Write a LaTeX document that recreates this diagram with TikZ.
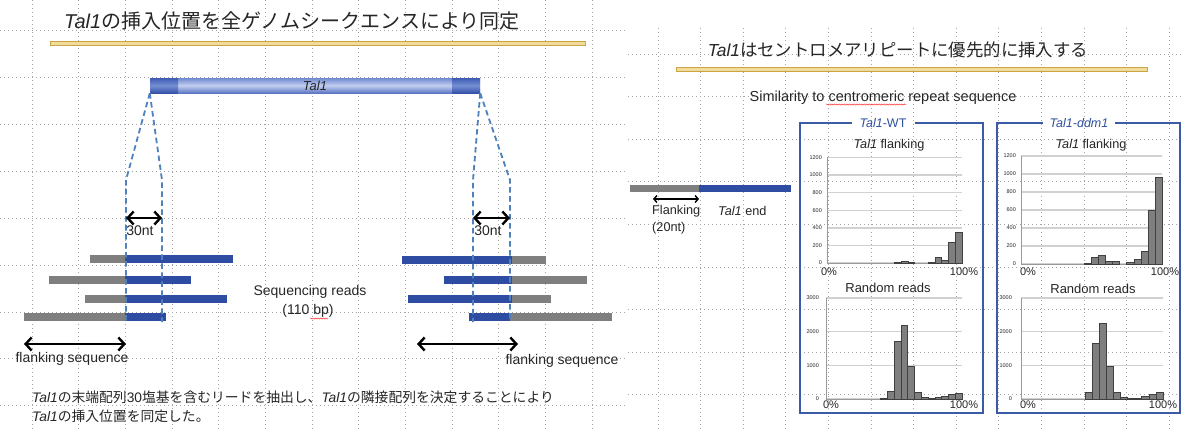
\documentclass[tikz,border=0pt]{standalone}
\usepackage{fontspec}
\setmainfont{Liberation Sans}
\newfontfamily\jp{Noto Sans CJK JP}
\usetikzlibrary{arrows.meta,decorations.pathmorphing}
\definecolor{gridc}{HTML}{A6A6A6}
\definecolor{goldf}{HTML}{F2DC9B}
\definecolor{goldd}{HTML}{C9A548}
\definecolor{readblue}{HTML}{2E4DA2}
\definecolor{readgray}{HTML}{7F7F7F}
\definecolor{dashblue}{HTML}{4F81BD}
\definecolor{boxblue}{HTML}{3B5BA9}
\definecolor{txt}{HTML}{262626}
\definecolor{lbl}{HTML}{3050A0}
\definecolor{bartop}{HTML}{6F88D0}
\definecolor{barmid}{HTML}{C3CFEF}
\definecolor{barbot}{HTML}{5C76C4}
\definecolor{endtop}{HTML}{3D5BB3}
\definecolor{endmid}{HTML}{7690D3}
\definecolor{endbot}{HTML}{3552A8}
\newcommand\fs[1]{\fontsize{#1}{#1}\selectfont}
\newcommand\mychart[9]{%
  \foreach \t in {0,#6,...,#7}{%
    \draw[cgrid] (#2,{#4-\t*#5}) -- (#3,{#4-\t*#5});
    \node[axlab,anchor=east] (#1l\t) at (#8,{#4-\t*#5}) {\t};}
  \draw[caxis] (#2,#4) -- (#2,{#4-#7*#5});
  \draw[caxis] (#2,#4) -- (#3,#4);
  \pgfmathsetmacro\bw{(#3-#2)/20}
  \foreach \v [count=\i from 0] in {#9}{%
    \ifnum\v>0 \draw[hbar] ({#2+\i*\bw},#4) rectangle ({#2+(\i+1)*\bw},{#4-\v*#5});\fi}
}
\begin{document}
\begin{tikzpicture}[x=1pt,y=-1pt,
  gridline/.style={gridc,line width=0.8pt,dash pattern=on 1pt off 3pt},
  readb/.style={fill=readblue,draw=none},
  readg/.style={fill=readgray,draw=none},
  dashl/.style={dashblue,line width=1.8pt,dash pattern=on 5.5pt off 3.5pt},
  darr/.style={line width=2.4pt,{Straight Barb[length=6pt,width=13pt]}-{Straight Barb[length=6pt,width=13pt]}},
  sarr/.style={line width=1.4pt,{Straight Barb[length=3pt,width=7pt]}-{Straight Barb[length=3pt,width=7pt]}},
  goldline/.style={fill=goldf,draw=goldd,line width=0.6pt},
  lab/.style={inner sep=0pt,text=txt},
  cgrid/.style={black!18,line width=1.4pt},
  caxis/.style={black!40,line width=0.7pt},
  axlab/.style={inner sep=0pt,font=\fs{5.5},text=txt},
  hbar/.style={fill=readgray,draw=black!75,line width=0.6pt},
  boxl/.style={boxblue,line width=1.8pt},
  squig/.style={red!80,line width=0.5pt,decorate,decoration={snake,amplitude=0.6pt,segment length=2.5pt}}
]
\useasboundingbox (0,0) rectangle (1182,432);
\fill[white] (0,0) rectangle (1182,432);
% background grids
\foreach \i in {0,...,12} \draw[gridline] ({32+\i*46.67},0) -- ({32+\i*46.67},432);
\foreach \j in {0,...,8} \draw[gridline] (0,{30.5+\j*46.9}) -- (625,{30.5+\j*46.9});
\foreach \i in {0,...,12} \draw[gridline] ({658+\i*42.6},28) -- ({658+\i*42.6},432);
\foreach \j in {0,...,8} \draw[gridline] (628,{54+\j*42.6}) -- (1182,{54+\j*42.6});

% ---------- left slide ----------
\node[lab,font=\fs{20}] (title1) at (292,21) {{\itshape Tal1}{\jp の挿入位置を全ゲノムシークエンスにより同定}};
\filldraw[goldline] (50,41.5) rectangle (585,45);

\node[minimum width=330pt,minimum height=15pt,inner sep=0pt,
      top color=bartop,bottom color=barbot,middle color=barmid] (bar) at (315,85.5) {};
\shade[top color=endtop,bottom color=endbot,middle color=endmid] (150,78) rectangle (178,93);
\shade[top color=endtop,bottom color=endbot,middle color=endmid] (452,78) rectangle (480,93);
\node[lab,font=\fs{13}\itshape] (barlab) at (bar.center) {Tal1};

% reads left
\fill[readg] (90,255) rectangle (125,263);  \fill[readb] (125,255) rectangle (233,263);
\fill[readg] (49,276) rectangle (125,284);  \fill[readb] (125,276) rectangle (191,284);
\fill[readg] (85,295) rectangle (125,303);  \fill[readb] (125,295) rectangle (227,303);
\fill[readg] (24,313) rectangle (125,321);  \fill[readb] (125,313) rectangle (166,321);
% reads right
\fill[readb] (402,256) rectangle (512,264); \fill[readg] (512,256) rectangle (546,264);
\fill[readb] (444,276) rectangle (512,284); \fill[readg] (512,276) rectangle (587,284);
\fill[readb] (408,295) rectangle (512,303); \fill[readg] (512,295) rectangle (551,303);
\fill[readb] (469,313) rectangle (510,321); \fill[readg] (510,313) rectangle (612,321);

% dashed projection lines
\coordinate (lo) at (126,180); \coordinate (lob) at (126,322);
\coordinate (li) at (162,180); \coordinate (lib) at (162,322);
\coordinate (ri) at (473,180); \coordinate (rib) at (473,322);
\coordinate (ro) at (510,180); \coordinate (rob) at (510,322);
\draw[dashl] (bar.south west) -- (lo) -- (lob);
\draw[dashl] (bar.south west) -- (li) -- (lib);
\draw[dashl] (bar.south east) -- (ri) -- (rib);
\draw[dashl] (bar.south east) -- (ro) -- (rob);

% 30nt arrows
\coordinate (a1) at (126,218); \coordinate (a2) at (162,218);
\coordinate (a3) at (473,218); \coordinate (a4) at (510,218);
\draw[darr] (a1) -- (a2);
\draw[darr] (a3) -- (a4);
\node[lab,font=\fs{14}] (nt1) at (140,231) {30nt};
\node[lab,font=\fs{14}] (nt2) at (488,231) {30nt};

\node[lab,font=\fs{14}] (seq1) at (310,292) {Sequencing reads};
\node[lab,font=\fs{14}] (seq2) at (308,311) {(110 bp)};
\draw[squig] (310,318.5) -- (328,318.5);

% flanking arrows
\coordinate (f1) at (24,344); \coordinate (f2) at (126,344);
\coordinate (f3) at (417,344); \coordinate (f4) at (518,344);
\draw[darr] (f1) -- (f2);
\draw[darr] (f3) -- (f4);
\node[lab,font=\fs{14}] (fl1) at (72,359) {flanking sequence};
\node[lab,font=\fs{14}] (fl2) at (562,361) {flanking sequence};

\node[lab,font=\fs{13.8},anchor=west] (note1) at (32,397) {{\itshape Tal1}{\jp の末端配列}30{\jp 塩基を含むリードを抽出し、}{\itshape Tal1}{\jp の隣接配列を決定することにより}};
\node[lab,font=\fs{13.8},anchor=west] (note2) at (32,416) {{\itshape Tal1}{\jp の挿入位置を同定した。}};

% ---------- right slide ----------
\node[lab,font=\fs{17.4}] (title2) at (898,50) {{\itshape Tal1}{\jp はセントロメアリピートに優先的に挿入する}};
\filldraw[goldline] (676,67.5) rectangle (1147,71);
\node[lab,font=\fs{14.5}] (sim) at (883,98) {Similarity to centromeric repeat sequence};
\draw[squig] (826,104.5) -- (906,104.5);

\fill[readg] (630,185) rectangle (699,192);
\fill[readb] (699,185) rectangle (791,192);
\coordinate (s1) at (653,199); \coordinate (s2) at (699,199);
\draw[sarr] (s1) -- (s2);
\node[lab,font=\fs{12.7},anchor=west] (flk) at (652,211) {Flanking};
\node[lab,font=\fs{12.7},anchor=west] (flk2) at (652,228) {(20nt)};
\node[lab,font=\fs{12.7},anchor=west] (tend) at (718,211) {{\itshape Tal1} end};

% WT box
\draw[boxl] (852,123) -- (800,123) -- (800,413) -- (983,413) -- (983,123) -- (915,123);
\node[lab,font=\fs{12.5},text=lbl] (wt) at (883,123) {{\itshape Tal1}-WT};
\node[lab,font=\fs{12.7}] (wtt1) at (889,145) {{\itshape Tal1} flanking};
\mychart{wf}{827}{962}{263}{0.088}{200}{1200}{822}{0,0,0,0,0,0,0,0,0,0,3,20,3,0,0,3,70,30,240,350}
\node[lab,font=\fs{11}] (wf0) at (829,272) {0\%};
\node[lab,font=\fs{11}] (wf100) at (964,272) {100\%};
\node[lab,font=\fs{13}] (wtt2) at (888,288) {Random reads};
\mychart{wr}{826}{962}{399}{0.0337}{1000}{3000}{819}{0,0,0,0,0,0,0,0,10,230,1720,2200,980,200,50,20,40,80,130,180}
\node[lab,font=\fs{11}] (wr0) at (831,405) {0\%};
\node[lab,font=\fs{11}] (wr100) at (964,405) {100\%};

% ddm1 box
\draw[boxl] (1043,123) -- (997,123) -- (997,413) -- (1180,413) -- (1180,123) -- (1115,123);
\node[lab,font=\fs{12.5}\itshape,text=lbl] (dd) at (1079,123) {Tal1-ddm1};
\node[lab,font=\fs{12.7}] (ddt1) at (1091,145) {{\itshape Tal1} flanking};
\mychart{df}{1021}{1162}{264}{0.09}{200}{1200}{1016}{0,0,0,0,0,0,0,0,0,8,70,100,35,25,0,20,55,145,600,960}
\node[lab,font=\fs{11}] (df0) at (1028,272) {0\%};
\node[lab,font=\fs{11}] (df100) at (1165,272) {100\%};
\node[lab,font=\fs{13}] (ddt2) at (1093,289) {Random reads};
\mychart{dr}{1021}{1163}{399}{0.0337}{1000}{3000}{1012}{0,0,0,0,0,0,0,0,0,200,1650,2250,980,200,40,30,35,70,150,200}
\node[lab,font=\fs{11}] (dr0) at (1028,405) {0\%};
\node[lab,font=\fs{11}] (dr100) at (1163,405) {100\%};
\end{tikzpicture}
\end{document}
